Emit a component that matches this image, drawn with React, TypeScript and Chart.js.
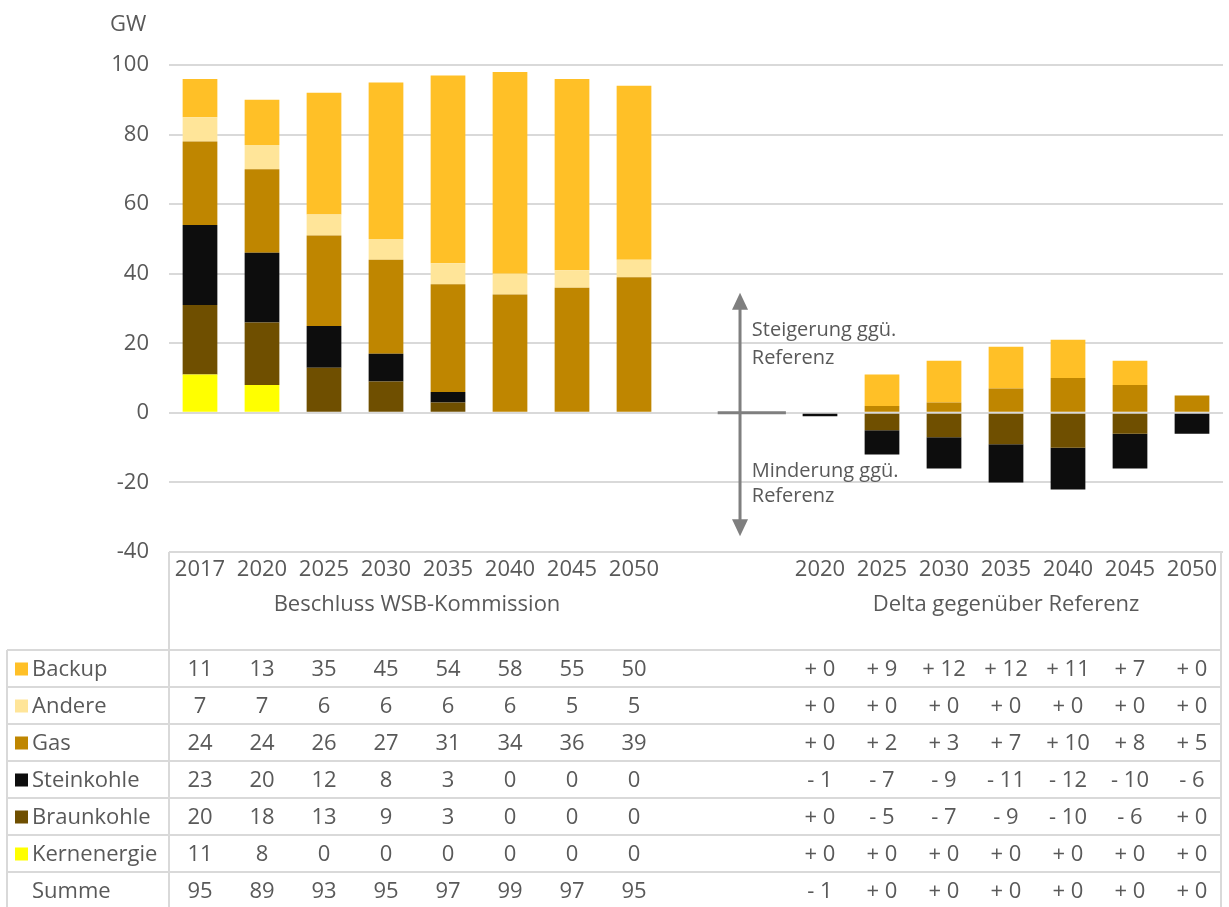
import React, { useEffect, useRef } from "react";
import { Chart, registerables } from "chart.js";

Chart.register(...registerables);

// ---- Data ----
const categories = ["2017", "2020", "2025", "2030", "2035", "2040", "2045", "2050", "", "", "2020", "2025", "2030", "2035", "2040", "2045", "2050"];
const leftGroupLabel = "Beschluss WSB-Kommission";
const rightGroupLabel = "Delta gegenüber Referenz";
const leftIdx = [0, 1, 2, 3, 4, 5, 6, 7];
const rightIdx = [10, 11, 12, 13, 14, 15, 16];

const kernenergie = [11, 8, 0, 0, 0, 0, 0, 0, null, null, 0, 0, 0, 0, 0, 0, 0];
const braunkohle = [20, 18, 13, 9, 3, 0, 0, 0, null, null, 0, -5, -7, -9, -10, -6, 0];
const steinkohle = [23, 20, 12, 8, 3, 0, 0, 0, null, null, -1, -7, -9, -11, -12, -10, -6];
const gas = [24, 24, 26, 27, 31, 34, 36, 39, null, null, 0, 2, 3, 7, 10, 8, 5];
const andere = [7, 7, 6, 6, 6, 6, 5, 5, null, null, 0, 0, 0, 0, 0, 0, 0];
const backup = [11, 13, 35, 45, 54, 58, 55, 50, null, null, 0, 9, 12, 12, 11, 7, 0];
const summe = [95, 89, 93, 95, 97, 99, 97, 95, null, null, -1, 0, 0, 0, 0, 0, 0];

const yTicks = [-40, -20, 0, 20, 40, 60, 80, 100];
const unitLabel = "GW";
const upLabel = ["Steigerung ggü.", "Referenz"];
const downLabel = ["Minderung ggü.", "Referenz"];

const COLORS = {
  backup: "#FFC027",
  andere: "#FFE599",
  gas: "#BF8600",
  stein: "#0D0D0D",
  braun: "#6F4F00",
  kern: "#FFFF00",
};

const TEXT = "#595959";
const GRID = "#D9D9D9";
const FONT = '"Open Sans", "Noto Sans", sans-serif';

const tableRows = [
  { name: "Backup", color: COLORS.backup, values: backup },
  { name: "Andere", color: COLORS.andere, values: andere },
  { name: "Gas", color: COLORS.gas, values: gas },
  { name: "Steinkohle", color: COLORS.stein, values: steinkohle },
  { name: "Braunkohle", color: COLORS.braun, values: braunkohle },
  { name: "Kernenergie", color: COLORS.kern, values: kernenergie },
  { name: "Summe", color: null, values: summe },
];

function fmtDelta(v: number) {
  return v < 0 ? "- " + Math.abs(v) : "+ " + v;
}

const tablePlugin = {
  id: "tablePlugin",
  afterDraw(chart: any) {
    const ctx = chart.ctx;
    const x = chart.scales.x;
    const y = chart.scales.y;
    const area = chart.chartArea;
    const H = chart.height;

    ctx.save();
    // Unit label
    ctx.fillStyle = TEXT;
    ctx.font = `22px ${FONT}`;
    ctx.textAlign = "left";
    ctx.textBaseline = "middle";
    ctx.fillText(unitLabel, 110, 25);

    // Table geometry
    const tableTop = y.getPixelForValue(-40);
    const headerBottom = tableTop + 98;
    const rowH = 37;
    const leftX = 7;
    const rightX = area.right - 2;
    const colX = area.left;

    ctx.strokeStyle = GRID;
    ctx.lineWidth = 2;
    ctx.beginPath();
    ctx.moveTo(colX, tableTop);
    ctx.lineTo(rightX, tableTop);
    ctx.moveTo(colX, tableTop);
    ctx.lineTo(colX, H);
    ctx.moveTo(rightX, tableTop);
    ctx.lineTo(rightX, H);
    ctx.moveTo(leftX, headerBottom);
    ctx.lineTo(leftX, H);
    for (let r = 0; r < tableRows.length; r++) {
      const ly = headerBottom + r * rowH;
      ctx.moveTo(leftX, ly);
      ctx.lineTo(rightX, ly);
    }
    ctx.stroke();

    // Header texts
    ctx.fillStyle = TEXT;
    ctx.font = `22px ${FONT}`;
    ctx.textAlign = "center";
    ctx.textBaseline = "middle";
    categories.forEach((c, i) => {
      if (c) ctx.fillText(c, x.getPixelForValue(i), tableTop + 18);
    });
    const lc = (x.getPixelForValue(leftIdx[0]) + x.getPixelForValue(leftIdx[leftIdx.length - 1])) / 2;
    const rc = (x.getPixelForValue(rightIdx[0]) + x.getPixelForValue(rightIdx[rightIdx.length - 1])) / 2;
    ctx.fillText(leftGroupLabel, lc, tableTop + 53);
    ctx.fillText(rightGroupLabel, rc, tableTop + 53);

    // Rows
    tableRows.forEach((row, r) => {
      const cy = headerBottom + r * rowH + rowH / 2 + 1;
      if (row.color) {
        ctx.fillStyle = row.color;
        ctx.fillRect(15, cy - 7, 13, 13);
      }
      ctx.fillStyle = TEXT;
      ctx.textAlign = "left";
      ctx.fillText(row.name, 32, cy);
      ctx.textAlign = "center";
      leftIdx.forEach((i) => {
        ctx.fillText(String(row.values[i]), x.getPixelForValue(i), cy);
      });
      rightIdx.forEach((i) => {
        ctx.fillText(fmtDelta(row.values[i] as number), x.getPixelForValue(i), cy);
      });
    });

    // Arrow annotation
    const ax = x.getPixelForValue(8.71);
    const yTop = y.getPixelForValue(34.5);
    const yBot = y.getPixelForValue(-35.5);
    const y0 = y.getPixelForValue(0);
    ctx.strokeStyle = "#7F7F7F";
    ctx.fillStyle = "#7F7F7F";
    ctx.lineWidth = 3;
    ctx.beginPath();
    ctx.moveTo(ax, yTop + 14);
    ctx.lineTo(ax, yBot - 14);
    ctx.moveTo(x.getPixelForValue(8.35), y0);
    ctx.lineTo(x.getPixelForValue(9.45), y0);
    ctx.stroke();
    ctx.beginPath();
    ctx.moveTo(ax, yTop);
    ctx.lineTo(ax - 8, yTop + 17);
    ctx.lineTo(ax + 8, yTop + 17);
    ctx.closePath();
    ctx.fill();
    ctx.beginPath();
    ctx.moveTo(ax, yBot);
    ctx.lineTo(ax - 8, yBot - 17);
    ctx.lineTo(ax + 8, yBot - 17);
    ctx.closePath();
    ctx.fill();

    ctx.fillStyle = TEXT;
    ctx.font = `20px ${FONT}`;
    ctx.textAlign = "left";
    const tx = x.getPixelForValue(8.9);
    ctx.fillText(upLabel[0], tx, y.getPixelForValue(23.6));
    ctx.fillText(upLabel[1], tx, y.getPixelForValue(15.8));
    ctx.fillText(downLabel[0], tx, y.getPixelForValue(-16.7));
    ctx.fillText(downLabel[1], tx, y.getPixelForValue(-24));
    ctx.restore();
  },
};

export default function App() {
  const ref = useRef<HTMLCanvasElement>(null);
  useEffect(() => {
    document.body.style.margin = "0";
    const canvas = ref.current!;
    const ds = (label: string, data: any[], color: string) => ({
      label,
      data,
      backgroundColor: color,
      borderWidth: 0,
      barPercentage: 1,
      categoryPercentage: 0.56,
    });
    const chart = new Chart(canvas, {
      type: "bar",
      data: {
        labels: categories,
        datasets: [
          ds("Kernenergie", kernenergie, COLORS.kern),
          ds("Braunkohle", braunkohle, COLORS.braun),
          ds("Steinkohle", steinkohle, COLORS.stein),
          ds("Gas", gas, COLORS.gas),
          ds("Andere", andere, COLORS.andere),
          ds("Backup", backup, COLORS.backup),
        ],
      },
      options: {
        responsive: false,
        animation: false,
        devicePixelRatio: 1,
        layout: { padding: { top: 65, bottom: 355, left: 0, right: 6 } },
        plugins: { legend: { display: false }, tooltip: { enabled: false } },
        scales: {
          x: { stacked: true, display: false },
          y: {
            stacked: true,
            min: -40,
            max: 100,
            afterFit: (s: any) => {
              s.width = 169;
            },
            afterBuildTicks: (s: any) => {
              s.ticks = yTicks.map((v) => ({ value: v }));
            },
            ticks: {
              color: TEXT,
              font: { family: FONT, size: 22 },
              padding: 20,
            },
            grid: { color: GRID, lineWidth: 2, drawTicks: false },
            border: { display: false },
          },
        },
      },
      plugins: [tablePlugin],
    });
    return () => chart.destroy();
  }, []);
  return <canvas ref={ref} width={1229} height={907} style={{ display: "block" }} />;
}
